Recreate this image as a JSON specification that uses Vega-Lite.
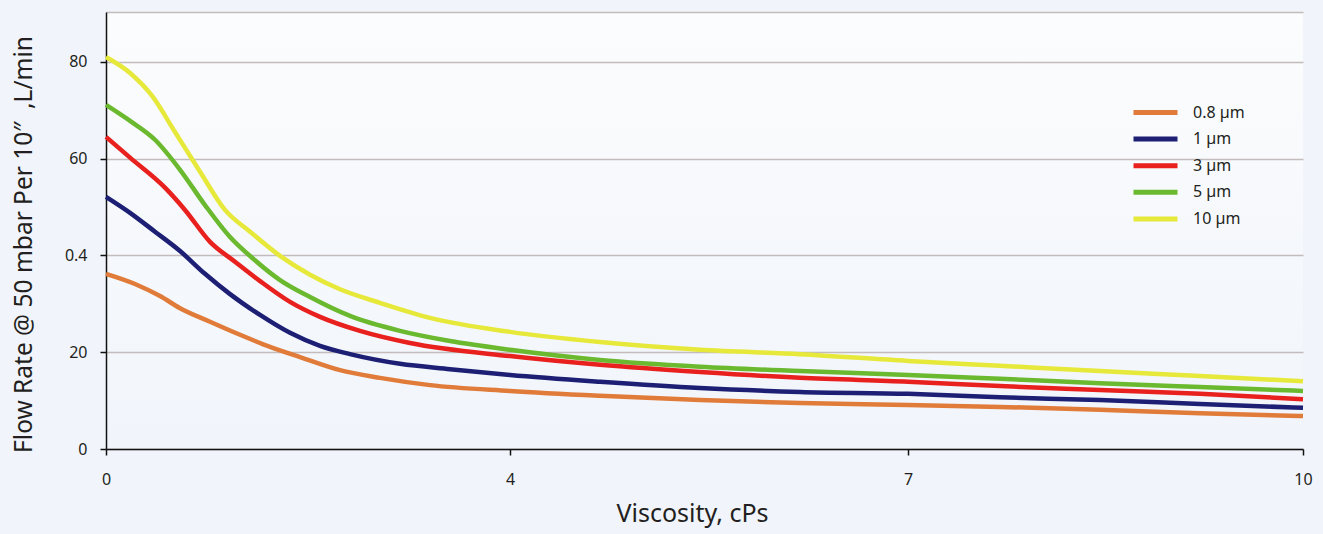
{
  "$schema": "https://vega.github.io/schema/vega-lite/v6.json",
  "width": 1197,
  "height": 437,
  "autosize": {"type": "none"},
  "padding": {"left": 106, "top": 12, "right": 20, "bottom": 85},
  "background": "#f1f5fb",
  "config": {
    "font": "Noto Sans",
    "view": {"stroke": null, "fill": {"gradient": "linear", "x1": 0, "y1": 0, "x2": 0, "y2": 1, "stops": [{"offset": 0, "color": "#fbfcfd"}, {"offset": 1, "color": "#f1f5fb"}]}}
  },
  "data": {"values": [
    {"s": "10 µm", "v": 0, "q": 81}, {"s": "10 µm", "v": 0.238, "q": 77.7}, {"s": "10 µm", "v": 0.455, "q": 73}, {"s": "10 µm", "v": 0.683, "q": 65.5}, {"s": "10 µm", "v": 0.931, "q": 57.3}, {"s": "10 µm", "v": 1.178, "q": 49.4}, {"s": "10 µm", "v": 1.426, "q": 44.9}, {"s": "10 µm", "v": 1.723, "q": 39.9}, {"s": "10 µm", "v": 2.02, "q": 36}, {"s": "10 µm", "v": 2.317, "q": 33}, {"s": "10 µm", "v": 2.713, "q": 30.2}, {"s": "10 µm", "v": 3.208, "q": 27.1}, {"s": "10 µm", "v": 4, "q": 24.2}, {"s": "10 µm", "v": 4.678, "q": 22.1}, {"s": "10 µm", "v": 5.432, "q": 20.5}, {"s": "10 µm", "v": 6.186, "q": 19.6}, {"s": "10 µm", "v": 7, "q": 18.2}, {"s": "10 µm", "v": 7.699, "q": 17.2}, {"s": "10 µm", "v": 8.458, "q": 16.1}, {"s": "10 µm", "v": 9.218, "q": 15.1}, {"s": "10 µm", "v": 10, "q": 14},
    {"s": "5 µm", "v": 0, "q": 71.1}, {"s": "5 µm", "v": 0.238, "q": 67.8}, {"s": "5 µm", "v": 0.485, "q": 63.9}, {"s": "5 µm", "v": 0.733, "q": 57.7}, {"s": "5 µm", "v": 0.98, "q": 50.4}, {"s": "5 µm", "v": 1.228, "q": 43.8}, {"s": "5 µm", "v": 1.475, "q": 39}, {"s": "5 µm", "v": 1.723, "q": 34.9}, {"s": "5 µm", "v": 2.02, "q": 31.4}, {"s": "5 µm", "v": 2.416, "q": 27.5}, {"s": "5 µm", "v": 2.911, "q": 24.4}, {"s": "5 µm", "v": 3.406, "q": 22.3}, {"s": "5 µm", "v": 4, "q": 20.5}, {"s": "5 µm", "v": 4.678, "q": 18.4}, {"s": "5 µm", "v": 5.432, "q": 17}, {"s": "5 µm", "v": 6.186, "q": 16.1}, {"s": "5 µm", "v": 7, "q": 15.3}, {"s": "5 µm", "v": 7.699, "q": 14.5}, {"s": "5 µm", "v": 8.458, "q": 13.6}, {"s": "5 µm", "v": 9.218, "q": 12.8}, {"s": "5 µm", "v": 10, "q": 12},
    {"s": "3 µm", "v": 0, "q": 64.5}, {"s": "3 µm", "v": 0.238, "q": 60.2}, {"s": "3 µm", "v": 0.584, "q": 54}, {"s": "3 µm", "v": 0.782, "q": 49.4}, {"s": "3 µm", "v": 1.03, "q": 42.8}, {"s": "3 µm", "v": 1.277, "q": 38.7}, {"s": "3 µm", "v": 1.525, "q": 34.7}, {"s": "3 µm", "v": 1.822, "q": 30.4}, {"s": "3 µm", "v": 2.119, "q": 27.3}, {"s": "3 µm", "v": 2.515, "q": 24.4}, {"s": "3 µm", "v": 3.01, "q": 21.9}, {"s": "3 µm", "v": 4, "q": 19.2}, {"s": "3 µm", "v": 4.678, "q": 17.4}, {"s": "3 µm", "v": 5.432, "q": 15.9}, {"s": "3 µm", "v": 6.186, "q": 14.7}, {"s": "3 µm", "v": 7, "q": 13.9}, {"s": "3 µm", "v": 7.699, "q": 13}, {"s": "3 µm", "v": 8.458, "q": 12.2}, {"s": "3 µm", "v": 9.218, "q": 11.4}, {"s": "3 µm", "v": 10, "q": 10.3},
    {"s": "1 µm", "v": 0, "q": 52.1}, {"s": "1 µm", "v": 0.238, "q": 48.8}, {"s": "1 µm", "v": 0.485, "q": 44.9}, {"s": "1 µm", "v": 0.733, "q": 40.9}, {"s": "1 µm", "v": 0.98, "q": 36.2}, {"s": "1 µm", "v": 1.228, "q": 32}, {"s": "1 µm", "v": 1.525, "q": 27.7}, {"s": "1 µm", "v": 1.822, "q": 24}, {"s": "1 µm", "v": 2.119, "q": 21.3}, {"s": "1 µm", "v": 2.416, "q": 19.6}, {"s": "1 µm", "v": 2.911, "q": 17.6}, {"s": "1 µm", "v": 3.406, "q": 16.5}, {"s": "1 µm", "v": 4, "q": 15.3}, {"s": "1 µm", "v": 4.678, "q": 13.9}, {"s": "1 µm", "v": 5.432, "q": 12.6}, {"s": "1 µm", "v": 6.186, "q": 11.8}, {"s": "1 µm", "v": 7, "q": 11.4}, {"s": "1 µm", "v": 7.699, "q": 10.7}, {"s": "1 µm", "v": 8.458, "q": 10.1}, {"s": "1 µm", "v": 9.218, "q": 9.3}, {"s": "1 µm", "v": 10, "q": 8.5},
    {"s": "0.8 µm", "v": 0, "q": 36.2}, {"s": "0.8 µm", "v": 0.287, "q": 34.1}, {"s": "0.8 µm", "v": 0.535, "q": 31.6}, {"s": "0.8 µm", "v": 0.733, "q": 29.1}, {"s": "0.8 µm", "v": 1.03, "q": 26.3}, {"s": "0.8 µm", "v": 1.327, "q": 23.6}, {"s": "0.8 µm", "v": 1.624, "q": 21.1}, {"s": "0.8 µm", "v": 1.921, "q": 19}, {"s": "0.8 µm", "v": 2.317, "q": 16.3}, {"s": "0.8 µm", "v": 2.713, "q": 14.7}, {"s": "0.8 µm", "v": 3.208, "q": 13.2}, {"s": "0.8 µm", "v": 4, "q": 12}, {"s": "0.8 µm", "v": 4.678, "q": 11}, {"s": "0.8 µm", "v": 5.432, "q": 10.1}, {"s": "0.8 µm", "v": 6.186, "q": 9.5}, {"s": "0.8 µm", "v": 7, "q": 9.1}, {"s": "0.8 µm", "v": 7.699, "q": 8.7}, {"s": "0.8 µm", "v": 8.458, "q": 8.1}, {"s": "0.8 µm", "v": 9.218, "q": 7.4}, {"s": "0.8 µm", "v": 10, "q": 6.8}
  ]},
  "mark": {"type": "line", "strokeWidth": 4.5, "interpolate": "monotone", "strokeCap": "butt"},
  "encoding": {
    "x": {
      "field": "v", "type": "quantitative",
      "scale": {"domain": [0, 4, 7, 10], "range": [0, 404, 802, 1197], "nice": false, "zero": false},
      "axis": {
        "values": [0, 4, 7, 10], "title": "Viscosity, cPs", "grid": false, "labelFlush": false,
        "domainColor": "#111111", "domainWidth": 1.5, "tickColor": "#111111", "tickWidth": 1.5, "tickSize": 6,
        "labelFont": "Noto Sans", "labelFontSize": 16, "labelColor": "#231f20", "labelPadding": 16,
        "titleFont": "Noto Sans", "titleFontSize": 25, "titleFontWeight": "normal", "titleColor": "#231f20",
        "titleX": 586, "titleY": 52, "titleBaseline": "top"
      }
    },
    "y": {
      "field": "q", "type": "quantitative",
      "scale": {"domain": [0, 90.3], "nice": false},
      "axis": {
        "values": [0, 20, 40, 60, 80, 90.3],
        "labelExpr": "datum.value == 40 ? '0.4' : (datum.value > 85 ? '' : datum.label)",
        "tickOpacity": {"condition": {"test": "datum.value > 85", "value": 0}, "value": 1},
        "title": "Flow Rate @ 50 mbar Per 10″\u00a0 ,L/min",
        "grid": true, "gridColor": "#c4bcbc", "gridWidth": 1.5,
        "domainColor": "#111111", "domainWidth": 1.5, "tickColor": "#111111", "tickWidth": 1.5, "tickSize": 6,
        "labelFont": "Noto Sans", "labelFontSize": 16, "labelColor": "#231f20", "labelPadding": 13,
        "titleFont": "Noto Sans", "titleFontSize": 24.5, "titleFontWeight": "normal", "titleColor": "#231f20",
        "titleX": -82, "titleY": 232, "titleBaseline": "middle", "titleAlign": "center", "titleAngle": -90
      }
    },
    "color": {
      "field": "s", "type": "nominal",
      "scale": {"domain": ["0.8 µm", "1 µm", "3 µm", "5 µm", "10 µm"], "range": ["#e07b39", "#1c1f73", "#e8201e", "#6ab92e", "#e6e83a"]},
      "legend": {
        "title": null, "orient": "none", "legendX": 1035, "legendY": 86,
        "symbolType": "M-1.833,0H1.833", "symbolSize": 576, "symbolStrokeWidth": 5,
        "labelFont": "Noto Sans", "labelFontSize": 16, "labelColor": "#231f20", "labelOffset": 23, "labelDy": 2,
        "rowPadding": 1.6, "padding": 0
      }
    }
  }
}
